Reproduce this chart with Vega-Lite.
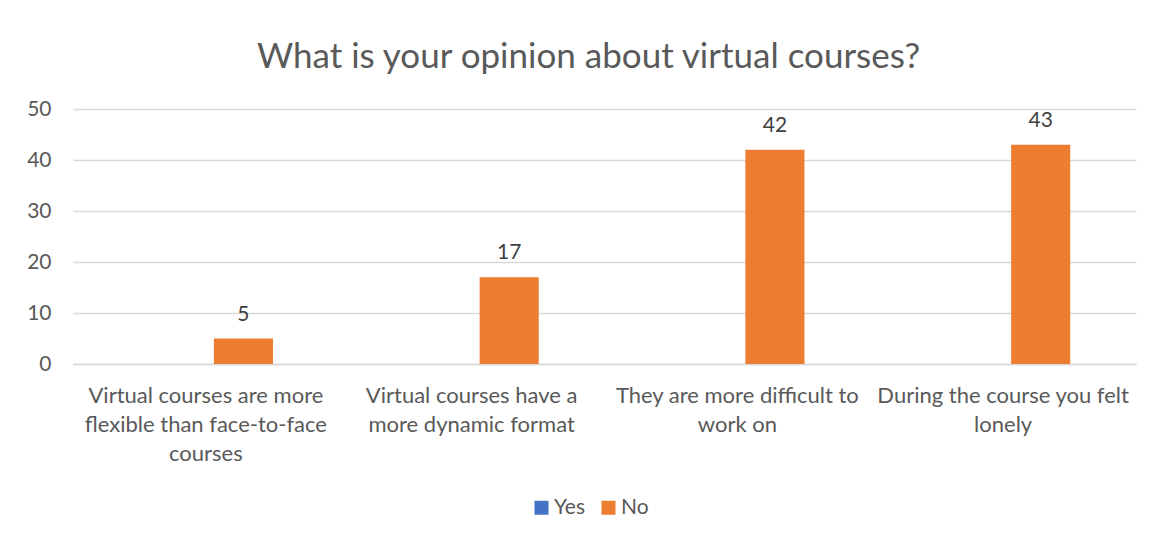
{
  "$schema": "https://vega.github.io/schema/vega-lite/v6.json",
  "width": 1063,
  "height": 255,
  "autosize": {"type": "none"},
  "padding": {"left": 73, "top": 109, "right": 17, "bottom": 174},
  "background": "white",
  "title": {
    "text": "What is your opinion about virtual courses?",
    "font": "Lato",
    "fontSize": 35,
    "fontWeight": "normal",
    "color": "#595959",
    "anchor": "middle",
    "baseline": "alphabetic",
    "offset": -5,
    "dx": -16
  },
  "data": {
    "values": [
      {"question": "Virtual courses are more flexible than face-to-face courses", "answer": "Yes", "count": 0},
      {"question": "Virtual courses are more flexible than face-to-face courses", "answer": "No", "count": 5},
      {"question": "Virtual courses have a more dynamic format", "answer": "Yes", "count": 0},
      {"question": "Virtual courses have a more dynamic format", "answer": "No", "count": 17},
      {"question": "They are more difficult to work on", "answer": "Yes", "count": 0},
      {"question": "They are more difficult to work on", "answer": "No", "count": 42},
      {"question": "During the course you felt lonely", "answer": "Yes", "count": 0},
      {"question": "During the course you felt lonely", "answer": "No", "count": 43}
    ]
  },
  "encoding": {
    "x": {
      "field": "question",
      "type": "nominal",
      "sort": null,
      "scale": {"paddingInner": 0.495, "paddingOuter": 0.2475},
      "axis": {
        "title": null,
        "labelAngle": 0,
        "labelFont": "Lato",
        "labelFontSize": 22,
        "labelColor": "#595959",
        "labelLineHeight": 29,
        "labelBaseline": "top",
        "labelPadding": 21,
        "labelLimit": 0,
        "ticks": false,
        "tickSize": 0,
        "domainColor": "#d9d9d9",
        "domainWidth": 1.5,
        "grid": false,
        "labelExpr": "datum.value == 'Virtual courses are more flexible than face-to-face courses' ? ['Virtual courses are more', 'flexible than face-to-face', 'courses'] : datum.value == 'Virtual courses have a more dynamic format' ? ['Virtual courses have a', 'more dynamic format'] : datum.value == 'They are more difficult to work on' ? ['They are more difficult to', 'work on'] : ['During the course you felt', 'lonely']"
      }
    },
    "y": {
      "field": "count",
      "type": "quantitative",
      "scale": {"domain": [0, 50]},
      "axis": {
        "title": null,
        "values": [0, 10, 20, 30, 40, 50],
        "labelFont": "Lato",
        "labelFontSize": 21,
        "labelColor": "#595959",
        "labelPadding": 22,
        "ticks": false,
        "tickSize": 0,
        "domain": false,
        "gridColor": "#d9d9d9",
        "gridWidth": 1.5
      }
    }
  },
  "layer": [
    {
      "mark": {"type": "bar"},
      "encoding": {
        "xOffset": {
          "field": "answer",
          "type": "nominal",
          "sort": ["Yes", "No"],
          "scale": {"domain": ["Yes", "No"], "paddingInner": 0.213, "paddingOuter": 0}
        },
        "color": {
          "field": "answer",
          "type": "nominal",
          "scale": {"domain": ["Yes", "No"], "range": ["#4472C4", "#ED7D31"]},
          "legend": {
            "title": null,
            "orient": "none",
            "direction": "horizontal",
            "legendX": 458,
            "legendY": 388,
            "symbolType": "square",
            "symbolSize": 196,
            "symbolStrokeWidth": 0,
            "labelFont": "Lato",
            "labelFontSize": 21,
            "labelColor": "#595959",
            "labelOffset": 2,
            "columnPadding": 13
          }
        }
      }
    },
    {
      "transform": [{"filter": "datum.answer == 'No'"}],
      "mark": {
        "type": "text",
        "baseline": "alphabetic",
        "dy": -18,
        "font": "Lato",
        "fontSize": 21,
        "color": "#404040"
      },
      "encoding": {
        "xOffset": {
          "field": "answer",
          "type": "nominal",
          "sort": ["Yes", "No"],
          "scale": {"domain": ["Yes", "No"], "paddingInner": 0.213, "paddingOuter": 0}
        },
        "text": {"field": "count", "type": "quantitative"}
      }
    }
  ],
  "config": {
    "view": {"stroke": null}
  }
}
